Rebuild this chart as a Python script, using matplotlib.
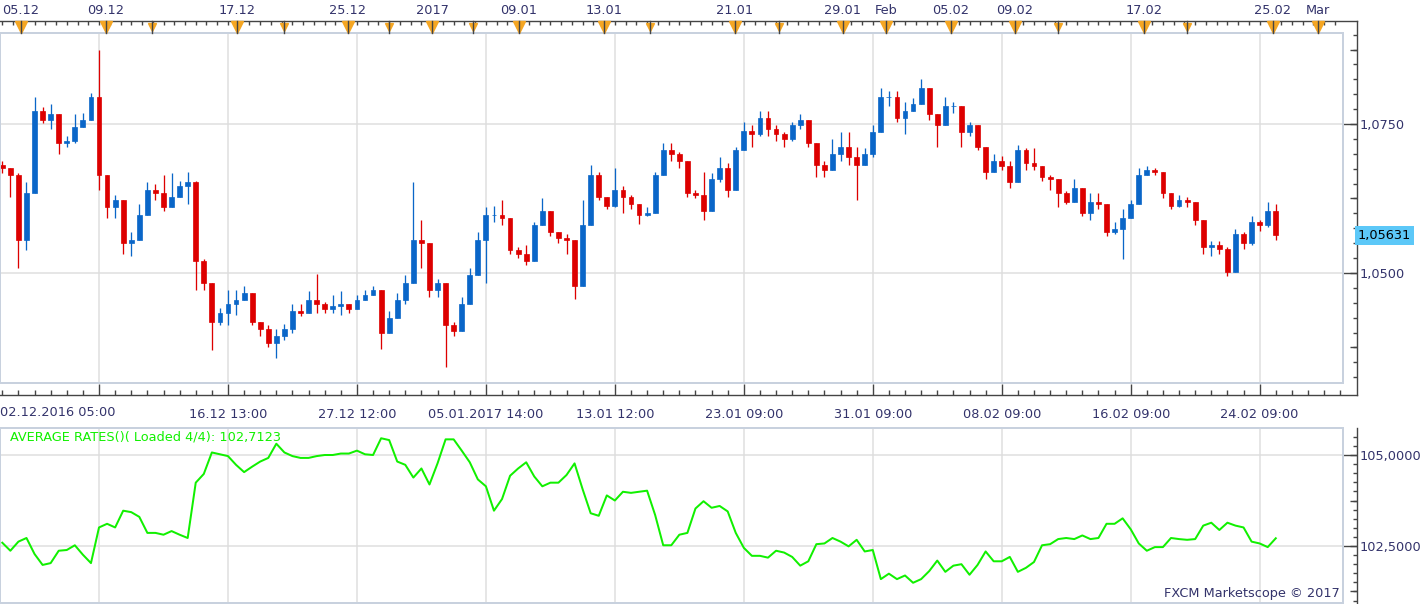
import numpy as np
import matplotlib.pyplot as plt
from matplotlib.patches import Rectangle
from matplotlib.ticker import MultipleLocator, FuncFormatter, NullFormatter

plt.rcParams['font.family'] = 'DejaVu Sans'
plt.rcParams['font.size'] = 9.3

# hourly candles squeezed into one bar per ~8 px of the original chart
first_open = 1.0682
close = [1.0676, 1.0664, 1.0556, 1.0634, 1.0772, 1.0757, 1.0766, 1.0718, 1.0721, 1.0745,
         1.0757, 1.0796, 1.0664, 1.0610, 1.0622, 1.0550, 1.0556, 1.0598, 1.0640, 1.0634,
         1.0610, 1.0628, 1.0646, 1.0652, 1.0520, 1.0484, 1.0418, 1.0433, 1.0448, 1.0454,
         1.0466, 1.0418, 1.0406, 1.0382, 1.0394, 1.0406, 1.0436, 1.0433, 1.0454, 1.0448,
         1.0439, 1.0445, 1.0448, 1.0439, 1.0454, 1.0463, 1.0472, 1.0400, 1.0424, 1.0454,
         1.0484, 1.0556, 1.0550, 1.0472, 1.0484, 1.0412, 1.0403, 1.0448, 1.0496, 1.0556,
         1.0598, 1.0598, 1.0592, 1.0538, 1.0532, 1.0520, 1.0580, 1.0604, 1.0568, 1.0559,
         1.0556, 1.0478, 1.0580, 1.0664, 1.0628, 1.0613, 1.0640, 1.0628, 1.0616, 1.0598,
         1.0601, 1.0664, 1.0706, 1.0700, 1.0688, 1.0634, 1.0631, 1.0604, 1.0658, 1.0676,
         1.0640, 1.0706, 1.0739, 1.0733, 1.0760, 1.0742, 1.0733, 1.0724, 1.0748, 1.0757,
         1.0718, 1.0682, 1.0673, 1.0700, 1.0712, 1.0694, 1.0682, 1.0700, 1.0736, 1.0796,
         1.0796, 1.0760, 1.0772, 1.0784, 1.0811, 1.0766, 1.0748, 1.0781, 1.0781, 1.0736,
         1.0748, 1.0712, 1.0670, 1.0688, 1.0679, 1.0652, 1.0706, 1.0685, 1.0679, 1.0661,
         1.0658, 1.0634, 1.0619, 1.0643, 1.0601, 1.0619, 1.0616, 1.0568, 1.0574, 1.0592,
         1.0616, 1.0664, 1.0673, 1.0670, 1.0634, 1.0613, 1.0622, 1.0619, 1.0589, 1.0544,
         1.0547, 1.0541, 1.0502, 1.0565, 1.0550, 1.0586, 1.0580, 1.0604, 1.05631]
high = [1.0688, 1.0676, 1.0667, 1.0652, 1.0796, 1.0778, 1.0784, 1.0766, 1.0730, 1.0766,
        1.0769, 1.0802, 1.0874, 1.0628, 1.0631, 1.0592, 1.0568, 1.0616, 1.0652, 1.0649,
        1.0664, 1.0667, 1.0655, 1.0670, 1.0655, 1.0523, 1.0448, 1.0442, 1.0472, 1.0472,
        1.0478, 1.0466, 1.0418, 1.0412, 1.0406, 1.0415, 1.0448, 1.0448, 1.0469, 1.0499,
        1.0451, 1.0463, 1.0469, 1.0448, 1.0463, 1.0472, 1.0479, 1.0454, 1.0436, 1.0466,
        1.0496, 1.0652, 1.0589, 1.0544, 1.0490, 1.0433, 1.0418, 1.0460, 1.0508, 1.0568,
        1.0610, 1.0613, 1.0622, 1.0583, 1.0544, 1.0547, 1.0586, 1.0625, 1.0604, 1.0568,
        1.0565, 1.0538, 1.0622, 1.0682, 1.0670, 1.0628, 1.0676, 1.0646, 1.0631, 1.0610,
        1.0610, 1.0670, 1.0718, 1.0718, 1.0703, 1.0688, 1.0640, 1.0670, 1.0667, 1.0694,
        1.0685, 1.0712, 1.0754, 1.0748, 1.0772, 1.0772, 1.0748, 1.0736, 1.0754, 1.0766,
        1.0757, 1.0706, 1.0688, 1.0724, 1.0736, 1.0736, 1.0712, 1.0709, 1.0748, 1.0811,
        1.0805, 1.0805, 1.0787, 1.0793, 1.0826, 1.0805, 1.0763, 1.0796, 1.0787, 1.0772,
        1.0754, 1.0736, 1.0712, 1.0700, 1.0697, 1.0688, 1.0715, 1.0709, 1.0709, 1.0667,
        1.0664, 1.0652, 1.0637, 1.0658, 1.0628, 1.0634, 1.0634, 1.0613, 1.0586, 1.0607,
        1.0622, 1.0676, 1.0679, 1.0676, 1.0667, 1.0631, 1.0631, 1.0628, 1.0616, 1.0589,
        1.0553, 1.0553, 1.0544, 1.0574, 1.0568, 1.0595, 1.0589, 1.0619, 1.0616]
low = [1.0667, 1.0628, 1.0508, 1.0538, 1.0688, 1.0751, 1.0742, 1.0700, 1.0712, 1.0718,
       1.0748, 1.0760, 1.0640, 1.0592, 1.0592, 1.0532, 1.0529, 1.0556, 1.0604, 1.0622,
       1.0604, 1.0619, 1.0628, 1.0616, 1.0472, 1.0472, 1.0370, 1.0412, 1.0412, 1.0430,
       1.0454, 1.0412, 1.0394, 1.0376, 1.0358, 1.0388, 1.0400, 1.0427, 1.0436, 1.0433,
       1.0433, 1.0433, 1.0430, 1.0433, 1.0445, 1.0454, 1.0466, 1.0373, 1.0406, 1.0430,
       1.0448, 1.0490, 1.0508, 1.0460, 1.0460, 1.0343, 1.0394, 1.0412, 1.0460, 1.0508,
       1.0484, 1.0586, 1.0580, 1.0532, 1.0525, 1.0513, 1.0532, 1.0586, 1.0562, 1.0550,
       1.0532, 1.0457, 1.0478, 1.0604, 1.0622, 1.0607, 1.0610, 1.0601, 1.0607, 1.0583,
       1.0595, 1.0604, 1.0670, 1.0688, 1.0676, 1.0628, 1.0625, 1.0589, 1.0622, 1.0652,
       1.0628, 1.0658, 1.0724, 1.0712, 1.0730, 1.0730, 1.0721, 1.0712, 1.0721, 1.0742,
       1.0712, 1.0661, 1.0661, 1.0676, 1.0688, 1.0682, 1.0622, 1.0691, 1.0694, 1.0754,
       1.0781, 1.0754, 1.0733, 1.0772, 1.0796, 1.0757, 1.0712, 1.0760, 1.0769, 1.0712,
       1.0730, 1.0706, 1.0658, 1.0670, 1.0673, 1.0643, 1.0676, 1.0673, 1.0673, 1.0655,
       1.0640, 1.0610, 1.0616, 1.0628, 1.0595, 1.0589, 1.0607, 1.0562, 1.0565, 1.0523,
       1.0592, 1.0628, 1.0667, 1.0664, 1.0625, 1.0607, 1.0610, 1.0610, 1.0580, 1.0532,
       1.0529, 1.0532, 1.0495, 1.0502, 1.0541, 1.0547, 1.0571, 1.0577, 1.0556]

avg_rates = [102.59, 102.37, 102.62, 102.72, 102.28, 101.98, 102.03, 102.37, 102.39, 102.52,
             102.26, 102.03, 103.01, 103.11, 103.01, 103.47, 103.43, 103.30, 102.86, 102.86,
             102.81, 102.91, 102.81, 102.72, 104.24, 104.48, 105.07, 105.02, 104.97, 104.73,
             104.53, 104.68, 104.82, 104.92, 105.31, 105.07, 104.97, 104.92, 104.92, 104.97,
             105.00, 105.00, 105.04, 105.04, 105.12, 105.02, 105.00, 105.46, 105.41, 104.82,
             104.73, 104.38, 104.63, 104.19, 104.77, 105.43, 105.43, 105.12, 104.80, 104.33,
             104.14, 103.47, 103.79, 104.43, 104.63, 104.80, 104.41, 104.14, 104.24, 104.24,
             104.45, 104.77, 104.06, 103.40, 103.33, 103.89, 103.75, 103.99, 103.96, 103.99,
             104.02, 103.35, 102.52, 102.52, 102.81, 102.86, 103.53, 103.73, 103.55, 103.60,
             103.45, 102.86, 102.45, 102.23, 102.23, 102.18, 102.37, 102.32, 102.20, 101.96,
             102.08, 102.55, 102.57, 102.72, 102.62, 102.49, 102.67, 102.35, 102.39, 101.59,
             101.74, 101.59, 101.69, 101.49, 101.59, 101.81, 102.10, 101.79, 101.96, 102.00,
             101.71, 101.98, 102.35, 102.08, 102.08, 102.20, 101.79, 101.90, 102.06, 102.52,
             102.55, 102.69, 102.72, 102.69, 102.79, 102.69, 102.72, 103.11, 103.11, 103.26,
             102.96, 102.57, 102.37, 102.47, 102.47, 102.72, 102.69, 102.67, 102.69, 103.06,
             103.14, 102.94, 103.14, 103.06, 103.01, 102.62, 102.57, 102.47, 102.7123]

# bottom time axis (bar index -> label)
time_ticks = [12, 28, 44, 60, 76, 92, 108, 124, 140, 156]
time_labels = ['', '16.12 13:00', '27.12 12:00', '05.01.2017 14:00', '13.01 12:00',
               '23.01 09:00', '31.01 09:00', '08.02 09:00', '16.02 09:00', '24.02 09:00']
first_time_label = '02.12.2016 05:00'

# calendar strip on top
strip_pos = [2.32, 12.87, 18.57, 29.12, 34.95, 42.89, 47.98, 53.31, 58.40, 64.11, 74.65, 80.36,
             90.90, 96.36, 104.3, 109.65, 117.7, 125.6, 131.0, 141.65, 147.0, 157.65, 163.2]
strip_labels = ['05.12', '09.12', '', '17.12', '', '25.12', '', '2017', '', '09.01', '13.01', '',
                '21.01', '', '29.01', 'Feb', '05.02', '09.02', '', '17.02', '', '25.02', 'Mar']

BLUE = '#0A66C8'
RED = '#DD0000'
GREEN = '#11F000'
NAVY = '#33336B'
GRID = '#DEDEDE'
FRAME = '#C8D1DE'
AXIS = '#444444'
ORANGE = '#F5A623'
TAG = '#5CC8F8'

W, H = 1423, 604
PX = 0.72  # points per pixel at 100 dpi
STEP = 8.06  # pixels per bar


def box(x0, y0, x1, y1):
    return [x0 / W, 1 - y1 / H, (x1 - x0) / W, (y1 - y0) / H]


def comma(v, nd=4):
    return f'{v:.{nd}f}'.replace('.', ',')


fig = plt.figure(figsize=(W / 100, H / 100), dpi=100)
ax = fig.add_axes(box(0, 33, 1343, 383))
ax2 = fig.add_axes(box(0, 428, 1343, 603), sharex=ax)
top = fig.add_axes(box(0, 0, 1343, 21))

x_left = -2.3 / STEP
xlim = (x_left, x_left + 1343 / STEP)
x_axis_end = x_left + 1357 / STEP

# ---- candles
x = np.arange(len(close))
c = np.array(close)
o = np.array([first_open] + close[:-1])
hi = np.maximum(high, np.maximum(o, c))
lo = np.minimum(low, np.minimum(o, c))
col = np.where(c >= o, BLUE, RED)
ax.vlines(x, lo, hi, colors=col, lw=1.3 * PX, zorder=3)
ax.bar(x, np.abs(c - o), bottom=np.minimum(o, c), width=0.6, color=col,
       edgecolor=col, lw=0.5, zorder=3)

ax.set_xlim(*xlim)
ylo, yhi = 1.03154, 1.09027
ax.set_ylim(ylo, yhi)


def price_at(py):
    return ylo + (383 - py) / 350 * (yhi - ylo)


ax.set_axisbelow(True)
ax.grid(True, which='major', color=GRID, lw=1.5 * PX)
ax.set_xticks(time_ticks, time_labels)
ax.xaxis.set_minor_locator(MultipleLocator(2))
ax.yaxis.set_major_locator(MultipleLocator(0.025))
ax.yaxis.set_minor_locator(MultipleLocator(0.0025))
ax.yaxis.set_major_formatter(FuncFormatter(lambda v, _: comma(v)))
ax.yaxis.tick_right()

for s in ['left', 'top']:
    ax.spines[s].set_visible(False)
ax.spines['right'].set_position(('outward', 14 * PX))
ax.spines['right'].set_bounds(price_at(395), price_at(21))
ax.spines['bottom'].set_position(('outward', 12 * PX))
ax.spines['bottom'].set_bounds(xlim[0], x_axis_end)
for s in ['right', 'bottom']:
    ax.spines[s].set_color(AXIS)
    ax.spines[s].set_linewidth(1.0)

ax.tick_params(axis='y', which='major', direction='in', length=14 * PX, color=AXIS,
               labelcolor=NAVY, pad=3 * PX, width=1)
ax.tick_params(axis='y', which='minor', direction='in', length=4 * PX, color=AXIS, width=1)
ax.tick_params(axis='x', which='major', direction='in', length=11 * PX, color=AXIS,
               labelcolor=NAVY, pad=9, width=1)
ax.tick_params(axis='x', which='minor', direction='in', length=5 * PX, color=AXIS, width=1)

sec = ax.secondary_yaxis(1 + 14 / 1343)
sec.yaxis.set_major_locator(MultipleLocator(0.0125))
sec.yaxis.set_major_formatter(NullFormatter())
sec.tick_params(direction='in', length=7 * PX, color=AXIS, width=1)
for s in sec.spines.values():
    s.set_visible(False)

ax.add_patch(Rectangle((0, 0), 1, 1, transform=ax.transAxes, fill=False, ec=FRAME,
                       lw=2 * PX, clip_on=False, zorder=4))
ax.text(0, -(413 - 383) / 350, first_time_label, transform=ax.transAxes, ha='left',
        va='center', color=NAVY)

# last price tag
ax.text(1 + 15 / 1343, close[-1], comma(close[-1], 5), transform=ax.get_yaxis_transform(),
        ha='left', va='center', color='black',
        bbox=dict(boxstyle='square,pad=0.22', fc=TAG, ec='none'), clip_on=False)

# ---- average rates panel
ax2.plot(x, avg_rates, color=GREEN, lw=2 * PX, zorder=3)
ax2.set_ylim(100.934, 105.742)
ax2.set_axisbelow(True)
ax2.grid(True, which='major', color=GRID, lw=1.5 * PX)
ax2.yaxis.set_major_locator(MultipleLocator(2.5))
ax2.yaxis.set_minor_locator(MultipleLocator(0.25))
ax2.yaxis.set_major_formatter(FuncFormatter(lambda v, _: comma(v)))
ax2.yaxis.tick_right()
ax2.tick_params(axis='x', which='both', length=0, labelbottom=False)
ax2.tick_params(axis='y', which='major', direction='in', length=14 * PX, color=AXIS,
                labelcolor=NAVY, pad=3 * PX, width=1)
ax2.tick_params(axis='y', which='minor', direction='in', length=4 * PX, color=AXIS, width=1)
for s in ['left', 'top', 'bottom']:
    ax2.spines[s].set_visible(False)
ax2.spines['right'].set_position(('outward', 14 * PX))
ax2.spines['right'].set_color(AXIS)
ax2.spines['right'].set_linewidth(1.0)

sec2 = ax2.secondary_yaxis(1 + 14 / 1343)
sec2.yaxis.set_major_locator(MultipleLocator(1.25))
sec2.yaxis.set_major_formatter(NullFormatter())
sec2.tick_params(direction='in', length=7 * PX, color=AXIS, width=1)
for s in sec2.spines.values():
    s.set_visible(False)

ax2.add_patch(Rectangle((0, 0), 1, 1, transform=ax2.transAxes, fill=False, ec=FRAME,
                        lw=2 * PX, clip_on=False, zorder=4))
ax2.text(10 / 1343, 1 - (437.5 - 428) / 175,
         'AVERAGE RATES()( Loaded 4/4): ' + comma(avg_rates[-1]),
         transform=ax2.transAxes, ha='left', va='center', color=GREEN)

# ---- calendar strip
top.set_xlim(*xlim)
top.set_ylim(0, 1)
for s in ['left', 'top', 'right']:
    top.spines[s].set_visible(False)
top.spines['bottom'].set_color(AXIS)
top.spines['bottom'].set_linewidth(1.0)
top.spines['bottom'].set_bounds(xlim[0], x_axis_end)
top.set_yticks([])
top.xaxis.set_major_locator(MultipleLocator(4 / 3))
top.tick_params(axis='x', direction='out', length=4 * PX, color=AXIS, width=1,
                labelbottom=False)
tr = top.get_xaxis_transform()
for p, lab in zip(strip_pos, strip_labels):
    big = lab != ''
    top.plot([p], [-0.27], marker='v', ms=8 if big else 6, color=ORANGE, mec=ORANGE,
             transform=tr, clip_on=False, zorder=3)
    top.plot([p, p], [0, -12 / 21], color=AXIS, lw=1, transform=tr, clip_on=False, zorder=4)
    if big:
        top.text(p, 0.5, lab, transform=tr, ha='center', va='center', color=NAVY)

fig.text(1340 / W, 1 - 594 / H, 'FXCM Marketscope \u00a9 2017', ha='right', va='center',
         color=NAVY)

fig.savefig('out.png', dpi=100, facecolor='white')
